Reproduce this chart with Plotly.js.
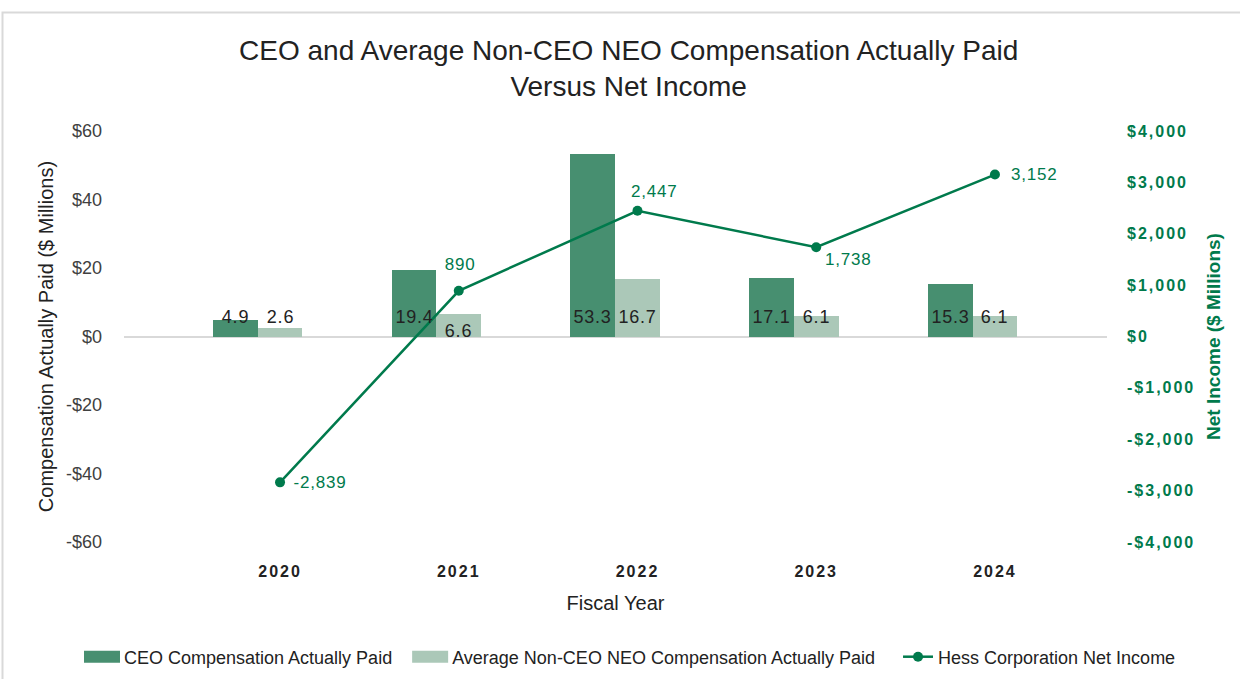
<!DOCTYPE html>
<html>
<head>
<meta charset="utf-8">
<script src="https://cdn.plot.ly/plotly-3.0.1.min.js"></script>
<style>
  html, body { margin: 0; padding: 0; background: #fff; }
  #chart { width: 1240px; height: 679px; }
  #chart .xtick text, #chart .y2tick text { letter-spacing: 2px; }
  #chart .annotation-text { letter-spacing: 0.8px; }
</style>
</head>
<body>
<div id="chart"></div>
<script>
// ---- data ----
const years = ["2020", "2021", "2022", "2023", "2024"];
const ceoComp = [4.9, 19.4, 53.3, 17.1, 15.3];
const neoComp = [2.6, 6.6, 16.7, 6.1, 6.1];
const netIncome = [-2839, 890, 2447, 1738, 3152];
const leftTickVals = [-60, -40, -20, 0, 20, 40, 60];
const leftTickText = ["-$60", "-$40", "-$20", "$0", "$20", "$40", "$60"];
const rightTickVals = [-4000, -3000, -2000, -1000, 0, 1000, 2000, 3000, 4000];
const rightTickText = ["-$4,000", "-$3,000", "-$2,000", "-$1,000", "$0", "$1,000", "$2,000", "$3,000", "$4,000"];

// ---- styles ----
const FONT = "Liberation Sans, Arial, sans-serif";
const CEO_COLOR = "#478F70";
const NEO_COLOR = "#ABC8B8";
const LINE_COLOR = "#007A4C";
const DARK = "#222222";

const traces = [
  {
    type: "bar", name: "CEO Compensation Actually Paid",
    x: years, y: ceoComp, width: 0.25, offset: -0.375,
    marker: { color: CEO_COLOR }, hoverinfo: "y"
  },
  {
    type: "bar", name: "Average Non-CEO NEO Compensation Actually Paid",
    x: years, y: neoComp, width: 0.25, offset: -0.125,
    marker: { color: NEO_COLOR }, hoverinfo: "y"
  },
  {
    type: "scatter", mode: "lines+markers", name: "Hess Corporation Net Income",
    x: years, y: netIncome, yaxis: "y2",
    line: { color: LINE_COLOR, width: 2.5 },
    marker: { color: LINE_COLOR, size: 10 }
  }
];

const annotations = [];
const fmt = v => v.toLocaleString("en-US");
years.forEach((yr, i) => {
  annotations.push({
    x: i - 0.25, y: 0, xref: "x", yref: "y", text: ceoComp[i].toFixed(1),
    showarrow: false, yanchor: "middle", yshift: 20,
    font: { family: FONT, size: 18, color: DARK }
  });
  annotations.push({
    x: i, y: 0, xref: "x", yref: "y", text: neoComp[i].toFixed(1),
    showarrow: false, yanchor: "middle", yshift: (i === 1 ? 6 : 20),
    font: { family: FONT, size: 18, color: DARK }
  });
});
// placement of net-income labels relative to their points
const place = [
  { xanchor: "left", xshift: 14, yshift: 0 },
  { xanchor: "center", xshift: 1, yshift: 26 },
  { xanchor: "left", xshift: -6, yshift: 19 },
  { xanchor: "left", xshift: 9, yshift: -12 },
  { xanchor: "left", xshift: 16, yshift: 0 }
];
years.forEach((yr, i) => {
  annotations.push({
    x: i, y: netIncome[i], xref: "x", yref: "y2", text: fmt(netIncome[i]),
    showarrow: false, yanchor: "middle",
    xanchor: place[i].xanchor, xshift: place[i].xshift, yshift: place[i].yshift,
    font: { family: FONT, size: 17, color: LINE_COLOR }
  });
});

const layout = {
  width: 1240, height: 679,
  margin: { l: 124, r: 133, t: 131, b: 137, pad: 0, autoexpand: false },
  paper_bgcolor: "#fff", plot_bgcolor: "#fff",
  font: { family: FONT, size: 18, color: DARK },
  showlegend: true,
  title: {
    text: "CEO and Average Non-CEO NEO Compensation Actually Paid<br>Versus Net Income",
    font: { family: FONT, size: 28, color: DARK },
    x: 0.507, xref: "container", xanchor: "center",
    y: 1 - 60 / 679, yref: "container", yanchor: "middle"
  },
  xaxis: {
    type: "category", range: [-0.873, 4.627],
    showgrid: false, zeroline: false, showline: false, ticks: "",
    ticklabelstandoff: 18,
    tickfont: { family: FONT, size: 16, color: DARK, weight: "bold" },
    title: { text: "Fiscal Year", font: { family: FONT, size: 20, color: DARK }, standoff: 16 },
    automargin: false, fixedrange: true
  },
  yaxis: {
    range: [-60, 60], tickvals: leftTickVals, ticktext: leftTickText,
    showgrid: false, zeroline: true, zerolinecolor: "#D9D9D9", zerolinewidth: 2,
    showline: false, ticks: "", ticklabelstandoff: 21,
    tickfont: { family: FONT, size: 18, color: "#404040" },
    title: { text: "Compensation Actually Paid ($ Millions)", font: { family: FONT, size: 20, color: DARK }, standoff: 6 },
    automargin: false, fixedrange: true
  },
  yaxis2: {
    overlaying: "y", side: "right",
    range: [-4000, 4000], tickvals: rightTickVals, ticktext: rightTickText,
    showgrid: false, zeroline: false, showline: false, ticks: "", ticklabelstandoff: 19,
    tickfont: { family: FONT, size: 16, color: LINE_COLOR, weight: "bold" },
    title: { text: "Net Income ($ Millions)", font: { family: FONT, size: 19, color: LINE_COLOR, weight: "bold" }, standoff: 26 },
    automargin: false, fixedrange: true
  },
  legend: {
    orientation: "h", x: (84 - 124) / 983, xref: "paper", xanchor: "left",
    y: (542 - 657) / 411, yref: "paper", yanchor: "middle",
    font: { family: FONT, size: 18, color: DARK },
    traceorder: "normal"
  },
  bargap: 0, barmode: "overlay",
  annotations: annotations,
  shapes: [{
    type: "rect", xref: "paper", yref: "paper", layer: "below",
    x0: (2.5 - 124) / 983, x1: 1.2, y0: -0.5, y1: (542 - 12.5) / 411,
    line: { color: "#D9D9D9", width: 2 }, fillcolor: "rgba(0,0,0,0)"
  }]
};

Plotly.newPlot("chart", traces, layout, { displayModeBar: false, staticPlot: true }).then(gd => {
  // widen the bar legend swatches to match the reference's long rectangles
  gd.querySelectorAll(".legend .traces .legendpoints path").forEach(p => {
    if (/M6,6H-6V-6H6Z/.test(p.getAttribute("d") || "")) {
      p.setAttribute("d", "M16,6H-20V-6H16Z");
    }
  });
  // widen the gaps between legend entries as in the reference
  gd.querySelectorAll(".legend [clip-path]").forEach(e => e.removeAttribute("clip-path"));
  const extra = [0, 15, 33];
  gd.querySelectorAll(".legend .traces").forEach((g, i) => {
    const t = g.getAttribute("transform") || "";
    const m = /translate\(\s*([-\d.]+)[ ,]+([-\d.]+)\s*\)/.exec(t);
    if (m && extra[i]) {
      g.setAttribute("transform", "translate(" + (parseFloat(m[1]) + extra[i]) + "," + m[2] + ")");
    }
  });
});
</script>
</body>
</html>
